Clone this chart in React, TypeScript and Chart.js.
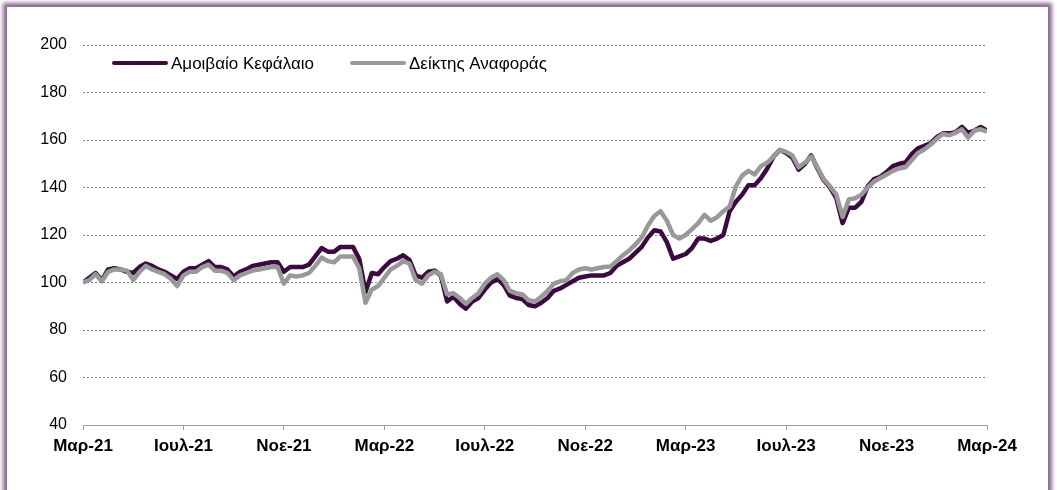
import React, { useEffect, useRef } from "react";
import { Chart, registerables } from "chart.js";

Chart.register(...registerables);

const tickLabels = ["Μαρ-21", "Ιουλ-21", "Νοε-21", "Μαρ-22", "Ιουλ-22", "Νοε-22", "Μαρ-23", "Ιουλ-23", "Νοε-23", "Μαρ-24"];
const seriesNames = ["Αμοιβαίο Κεφάλαιο", "Δείκτης Αναφοράς"];

// Weekly observations (≈4 per month), Mar-21 .. Mar-24
const fundValues = [
  100, 102, 104, 101, 105.5, 106, 105.5, 104.5, 104, 106.5,
  108, 107, 105.5, 104.5, 103, 101.5, 104.5, 106, 106, 107.5,
  109, 106.5, 106.5, 105.5, 102.5, 104.5, 105.5, 107, 107.5, 108,
  108.5, 108.5, 104.5, 106.5, 106.5, 106.5, 107.5, 111, 114.5, 113,
  113, 115, 115, 115, 110, 96, 104, 103.5, 106.5, 109,
  110, 111.5, 109.5, 103, 102, 104.5, 105, 103, 92, 94,
  91, 89, 92, 93.5, 97, 100, 101.5, 99, 94.5, 93.5,
  93, 90.5, 90, 91.5, 93.5, 96.5, 97.5, 99, 100.5, 102,
  102.5, 103, 103, 103, 104, 107, 108.5, 110, 112.5, 115,
  119, 122, 121.5, 117, 110, 111, 112, 114.5, 118.5, 118.5,
  117.5, 118.5, 120, 130, 134, 137, 141, 141, 144, 148,
  153, 155.8, 154.5, 152.5, 147.5, 150, 153.5, 148, 143, 140,
  135.5, 125, 131.5, 131.5, 134, 140.5, 143.5, 144.5, 146.5, 149,
  150, 150.5, 154, 156.5, 157.5, 158.6, 161.2, 162.8, 162.8, 163.3,
  165.5, 163, 164, 165.5, 164,
];

const benchmarkValues = [
  100, 101, 103.5, 100.5, 104.5, 105.5, 105.5, 105, 101, 104.5,
  107, 105.5, 104.5, 103.5, 101.5, 98.5, 103, 104.5, 104.5, 106.5,
  107.5, 105, 105, 104, 101, 103, 104, 105, 105.5, 106,
  106.5, 106.5, 99.5, 103, 102.5, 103, 104, 107, 110.5, 109,
  108.5, 111, 111, 111, 106, 91.5, 97, 98.5, 102, 105.5,
  107, 109, 108, 101, 99.5, 103, 104.5, 103.5, 95, 95.5,
  93.5, 91, 93.5, 95.5, 99.5, 102, 103.5, 101, 96.5, 95.5,
  95, 92.5, 92, 94, 96.5, 99.5, 100.5, 101, 104, 105.5,
  106, 105.5, 106, 106.5, 106.7, 109, 111.5, 113.5, 116, 119,
  124, 128, 130, 126, 120, 118.5, 120, 122.5, 125, 128.5,
  126, 127.5, 130, 132, 140.5, 145, 147, 145.5, 149, 150.5,
  153, 155.8, 155, 153.5, 148.5, 150.5, 153, 148.5, 143.5, 140.5,
  137, 127.6, 135, 135.5, 137, 140, 142.5, 144, 145.5, 147,
  148, 148.5, 151.5, 154.5, 156, 158, 160.5, 162.5, 162, 163,
  164.5, 161, 164, 164.5, 163.5,
];

const POINTS_PER_LABEL = 16;
const FUND_COLOR = "#3b0b40";
const BENCH_COLOR = "#999999";
const FONT = "'Liberation Sans', Arial, sans-serif";

const legendPlugin = {
  id: "innerLegend",
  afterDraw(chart: any) {
    const { ctx, chartArea } = chart;
    ctx.save();
    ctx.font = `17px ${FONT}`;
    ctx.textBaseline = "middle";
    ctx.textAlign = "left";
    let x = chartArea.left + 31;
    const y = chartArea.top + 18;
    const lineLen = 52;
    chart.data.datasets.forEach((ds: any) => {
      ctx.strokeStyle = ds.borderColor;
      ctx.lineWidth = 4;
      ctx.lineCap = "round";
      ctx.beginPath();
      ctx.moveTo(x, y);
      ctx.lineTo(x + lineLen, y);
      ctx.stroke();
      ctx.fillStyle = "#000";
      ctx.fillText(ds.label, x + lineLen + 5, y + 1);
      x += lineLen + 5 + ctx.measureText(ds.label).width + 38;
    });
    ctx.restore();
  },
};

export default function App() {
  const canvasRef = useRef<HTMLCanvasElement | null>(null);

  useEffect(() => {
    document.body.style.margin = "0";
    const canvas = canvasRef.current;
    if (!canvas) return;
    const chart = new Chart(canvas, {
      type: "line",
      data: {
        datasets: [
          {
            label: seriesNames[0],
            data: fundValues.map((v, i) => ({ x: i, y: v })),
            borderColor: FUND_COLOR,
            backgroundColor: FUND_COLOR,
            borderWidth: 4.5,
            pointRadius: 0,
            tension: 0,
            borderJoinStyle: "round",
            order: 1,
          },
          {
            label: seriesNames[1],
            data: benchmarkValues.map((v, i) => ({ x: i, y: v })),
            borderColor: BENCH_COLOR,
            backgroundColor: BENCH_COLOR,
            borderWidth: 4.5,
            pointRadius: 0,
            tension: 0,
            borderJoinStyle: "round",
            order: 0,
          },
        ],
      },
      options: {
        responsive: false,
        animation: false,
        layout: { padding: { left: 0, right: 70, top: 45, bottom: 0 } },
        plugins: { legend: { display: false }, tooltip: { enabled: false } },
        scales: {
          x: {
            type: "linear",
            min: 0,
            max: (tickLabels.length - 1) * POINTS_PER_LABEL,
            afterFit: (s: any) => { s.height = 65; },
            ticks: {
              stepSize: POINTS_PER_LABEL,
              autoSkip: false,
              maxRotation: 0,
              padding: 6,
              color: "#000",
              font: { family: FONT, size: 17, weight: "bold" },
              callback: (v: any) => tickLabels[Math.round(Number(v) / POINTS_PER_LABEL)] ?? "",
            },
            grid: { drawOnChartArea: false, drawTicks: true, tickLength: 5, color: "#a0a0a0" },
            border: { display: true, color: "#a0a0a0", width: 1 },
          },
          y: {
            min: 40,
            max: 200,
            afterFit: (s: any) => { s.width = 83; },
            ticks: {
              stepSize: 20,
              padding: 16,
              color: "#000",
              font: { family: FONT, size: 16 },
            },
            grid: {
              drawTicks: false,
              color: (c: any) => (c.tick && c.tick.value === 40 ? "rgba(0,0,0,0)" : "#808080"),
              lineWidth: 1,
            },
            border: { display: false, dash: [2, 2] },
          },
        },
      },
      plugins: [legendPlugin],
    });
    return () => chart.destroy();
  }, []);

  return (
    <div style={{ position: "relative", width: 1057, height: 490, overflow: "hidden", background: "#fff" }}>
      <div
        style={{
          position: "absolute",
          left: 7,
          top: 7,
          width: 1041,
          height: 530,
          background: "#fff",
          boxShadow: "0 0 4px 4px rgba(130,98,140,0.95)",
        }}
      />
      <canvas
        ref={canvasRef}
        width={1057}
        height={490}
        style={{ position: "absolute", left: 0, top: 0, width: 1057, height: 490 }}
      />
    </div>
  );
}
